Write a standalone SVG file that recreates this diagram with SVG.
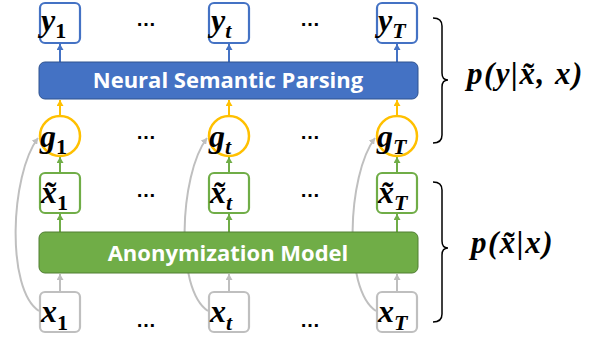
<svg xmlns="http://www.w3.org/2000/svg" width="599" height="340" viewBox="0 0 599 340">
<style>
.bg{fill:#fff}
.ybox{fill:#fff;stroke:#4472C4;stroke-width:2.2}
.xtbox{fill:#fff;stroke:#70AD47;stroke-width:2.2}
.xbox{fill:#fff;stroke:#BFBFBF;stroke-width:2.2}
.gc{fill:#fff;stroke:#FFC000;stroke-width:2.5}
.bar-b{fill:#4472C4;stroke:#2F528F;stroke-width:1}
.bar-g{fill:#70AD47;stroke:#507E32;stroke-width:1}
.bt{font-family:"Open Sans","Liberation Sans",sans-serif;font-weight:bold;font-size:22px;fill:#fff;text-anchor:middle}
.m{font-family:"Liberation Serif",serif;font-weight:bold;font-style:italic;font-size:32px;fill:#000}
.s{font-size:22px}
.su{font-style:normal}
.dots{font-family:"Liberation Sans",sans-serif;font-weight:bold;font-size:20px;fill:#000;text-anchor:middle}
.ab{stroke:#4472C4;stroke-width:2;fill:none}
.ay{stroke:#FFC000;stroke-width:2;fill:none}
.ag{stroke:#70AD47;stroke-width:2;fill:none}
.ax{stroke:#BFBFBF;stroke-width:2;fill:none}
.brace{stroke:#000;stroke-width:1.5;fill:none}
.lab{font-family:"Liberation Serif",serif;font-weight:bold;font-style:italic;font-size:31px;fill:#000;letter-spacing:1.5px}
</style>
<defs>
<marker id="hb" markerUnits="userSpaceOnUse" markerWidth="7" markerHeight="7" refX="6" refY="3.5" orient="auto"><path d="M0,0 L6,3.5 L0,7 z" fill="#4472C4"/></marker>
<marker id="hy" markerUnits="userSpaceOnUse" markerWidth="7" markerHeight="7" refX="6" refY="3.5" orient="auto"><path d="M0,0 L6,3.5 L0,7 z" fill="#FFC000"/></marker>
<marker id="hg" markerUnits="userSpaceOnUse" markerWidth="7" markerHeight="7" refX="6" refY="3.5" orient="auto"><path d="M0,0 L6,3.5 L0,7 z" fill="#70AD47"/></marker>
<marker id="hx" markerUnits="userSpaceOnUse" markerWidth="7" markerHeight="7" refX="6" refY="3.5" orient="auto"><path d="M0,0 L6,3.5 L0,7 z" fill="#BFBFBF"/></marker>
</defs>
<rect class="bg" x="0" y="0" width="599" height="340"/>

<g id="connectors">
  <line class="ab" x1="60" y1="62" x2="60" y2="44" marker-end="url(#hb)"/>
  <line class="ab" x1="229" y1="62" x2="229" y2="44" marker-end="url(#hb)"/>
  <line class="ab" x1="397" y1="62" x2="397" y2="44" marker-end="url(#hb)"/>
  <line class="ay" x1="60" y1="116" x2="60" y2="100" marker-end="url(#hy)"/>
  <line class="ay" x1="229" y1="116" x2="229" y2="100" marker-end="url(#hy)"/>
  <line class="ay" x1="397" y1="116" x2="397" y2="100" marker-end="url(#hy)"/>
  <line class="ag" x1="60" y1="173" x2="60" y2="157" marker-end="url(#hg)"/>
  <line class="ag" x1="229" y1="173" x2="229" y2="157" marker-end="url(#hg)"/>
  <line class="ag" x1="397" y1="173" x2="397" y2="157" marker-end="url(#hg)"/>
  <line class="ag" x1="60" y1="232" x2="60" y2="214" marker-end="url(#hg)"/>
  <line class="ag" x1="229" y1="232" x2="229" y2="214" marker-end="url(#hg)"/>
  <line class="ag" x1="397" y1="232" x2="397" y2="214" marker-end="url(#hg)"/>
  <line class="ax" x1="60" y1="292" x2="60" y2="274" marker-end="url(#hx)"/>
  <line class="ax" x1="229" y1="292" x2="229" y2="274" marker-end="url(#hx)"/>
  <line class="ax" x1="397" y1="292" x2="397" y2="274" marker-end="url(#hx)"/>
  <path class="ax" d="M39,311 C6,290 10,175 38,138" marker-end="url(#hx)"/>
  <path class="ax" d="M208,311 C175,290 179,175 207,138" marker-end="url(#hx)"/>
  <path class="ax" d="M376,311 C343,290 347,175 375,138" marker-end="url(#hx)"/>
</g>

<g id="y1"><rect class="ybox" x="40" y="3" width="40" height="40" rx="5"/><text class="m" x="41" y="31">y<tspan class="s su" y="38">1</tspan></text></g>
<g id="yt"><rect class="ybox" x="209" y="3" width="40" height="40" rx="5"/><text class="m" x="211" y="31">y<tspan class="s" y="38">t</tspan></text></g>
<g id="yT"><rect class="ybox" x="377" y="3" width="40" height="40" rx="5"/><text class="m" x="378" y="31">y<tspan class="s" y="38">T</tspan></text></g>

<g id="nsp"><rect class="bar-b" x="39" y="62" width="379" height="37" rx="6"/><text class="bt" x="228" y="88">Neural Semantic Parsing</text></g>

<g id="g1"><circle class="gc" cx="60" cy="136" r="20"/><text class="m" x="40" y="147">g<tspan class="s su" y="154">1</tspan></text></g>
<g id="gt"><circle class="gc" cx="229" cy="136" r="20"/><text class="m" x="209" y="147">g<tspan class="s" y="154">t</tspan></text></g>
<g id="gT"><circle class="gc" cx="397" cy="136" r="20"/><text class="m" x="377" y="147">g<tspan class="s" y="154">T</tspan></text></g>

<g id="xt1"><rect class="xtbox" x="40" y="173" width="40" height="40" rx="5"/><text class="m" x="41" y="203">x̃<tspan class="s su" y="210">1</tspan></text></g>
<g id="xtt"><rect class="xtbox" x="209" y="173" width="40" height="40" rx="5"/><text class="m" x="210" y="203">x̃<tspan class="s" y="210">t</tspan></text></g>
<g id="xtT"><rect class="xtbox" x="377" y="173" width="40" height="40" rx="5"/><text class="m" x="378" y="203">x̃<tspan class="s" y="210">T</tspan></text></g>

<g id="anon"><rect class="bar-g" x="39" y="232" width="379" height="41" rx="6"/><text class="bt" x="228" y="261">Anonymization Model</text></g>

<g id="x1"><rect class="xbox" x="40" y="292" width="40" height="40" rx="5"/><text class="m" x="41" y="322">x<tspan class="s su" y="330">1</tspan></text></g>
<g id="xt"><rect class="xbox" x="209" y="292" width="40" height="40" rx="5"/><text class="m" x="210" y="322">x<tspan class="s" y="330">t</tspan></text></g>
<g id="xT"><rect class="xbox" x="377" y="292" width="40" height="40" rx="5"/><text class="m" x="378" y="322">x<tspan class="s" y="330">T</tspan></text></g>

<g id="dots">
  <text class="dots" x="146" y="26">…</text><text class="dots" x="310" y="26">…</text>
  <text class="dots" x="146" y="139">…</text><text class="dots" x="310" y="139">…</text>
  <text class="dots" x="146" y="197">…</text><text class="dots" x="310" y="197">…</text>
  <text class="dots" x="146" y="327">…</text><text class="dots" x="310" y="327">…</text>
</g>

<g id="brace1"><path class="brace" d="M433,18 Q442,18 442,26 L442,73 Q442,80 448,80 Q442,80 442,87 L442,135 Q442,143 433,143"/><text class="lab" x="467" y="84">p(y|x̃, x)</text></g>
<g id="brace2"><path class="brace" d="M433,182 Q442,182 442,190 L442,241 Q442,248 448,248 Q442,248 442,255 L442,314 Q442,322 433,322"/><text class="lab" x="471" y="253">p(x̃|x)</text></g>
</svg>
